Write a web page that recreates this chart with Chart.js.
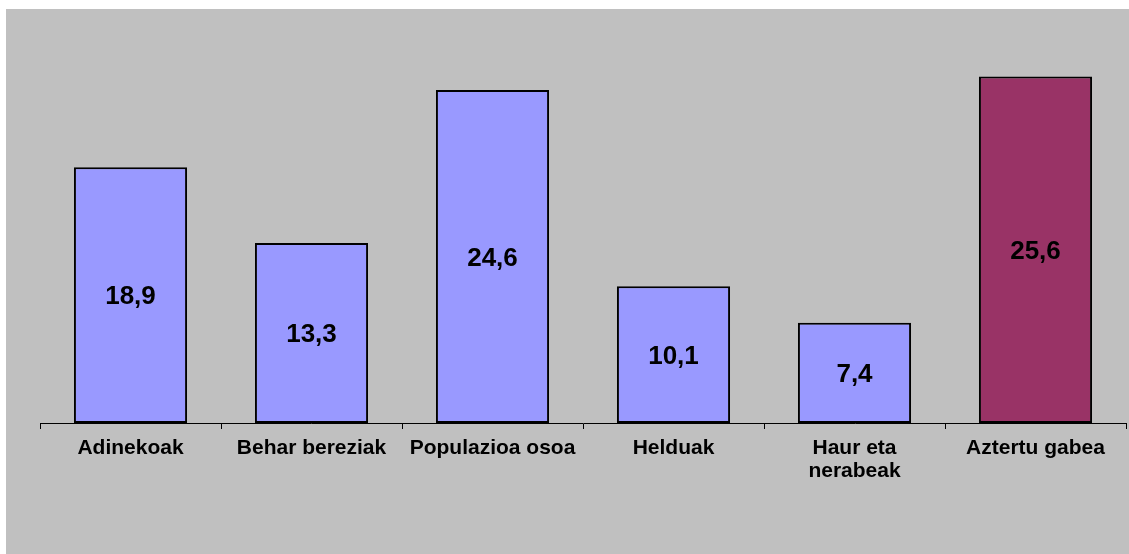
<!DOCTYPE html>
<html>
<head>
<meta charset="utf-8">
<script src="https://cdn.jsdelivr.net/npm/chart.js@4.4.1/dist/chart.umd.min.js"></script>
<style>
html,body{margin:0;padding:0;background:#fff;}
#wrap{position:absolute;left:6px;top:9px;width:1123px;height:545px;background:#C0C0C0;}
canvas{display:block;}
</style>
</head>
<body>
<div id="wrap"><canvas id="c" width="1123" height="545"></canvas></div>
<script>
const categories = ['Adinekoak', 'Behar bereziak', 'Populazioa osoa', 'Helduak', ['Haur eta', 'nerabeak'], 'Aztertu gabea'];
const values = [18.9, 13.3, 24.6, 10.1, 7.4, 25.6];
const barColors = ['#9999FF', '#9999FF', '#9999FF', '#9999FF', '#9999FF', '#993366'];
const yMin = 0;
const yMax = 30;

const FONT = "'Liberation Sans', Arial, sans-serif";

const valueLabels = {
  id: 'valueLabels',
  afterDatasetsDraw(chart) {
    const ctx = chart.ctx;
    const meta = chart.getDatasetMeta(0);
    const size = 26;
    ctx.save();
    ctx.font = "bold " + size + "px " + FONT;
    ctx.fillStyle = '#000';
    ctx.textAlign = 'center';
    ctx.textBaseline = 'alphabetic';
    meta.data.forEach((bar, i) => {
      const p = bar.getProps(['x', 'y', 'base'], true);
      const cy = (p.y + p.base) / 2 + size * 0.716 / 2;
      ctx.fillText(values[i].toFixed(1).replace('.', ','), p.x, cy);
    });
    ctx.restore();
  }
};

new Chart(document.getElementById('c'), {
  type: 'bar',
  data: {
    labels: categories,
    datasets: [{
      data: values,
      backgroundColor: barColors,
      borderColor: '#000',
      borderWidth: 2,
      borderSkipped: false,
      barPercentage: 0.625,
      categoryPercentage: 1.0
    }]
  },
  options: {
    responsive: false,
    animation: false,
    events: [],
    layout: { padding: { left: 34, right: 3, top: 8, bottom: 0 } },
    plugins: { legend: { display: false }, tooltip: { enabled: false } },
    scales: {
      y: {
        display: false,
        min: yMin,
        max: yMax
      },
      x: {
        offset: true,
        border: { display: true, color: '#000', width: 1 },
        grid: { display: true, drawOnChartArea: false, drawTicks: true, tickLength: 6, color: '#000', offset: true },
        ticks: {
          autoSkip: false,
          maxRotation: 0,
          padding: 8,
          color: '#000',
          font: { family: FONT, size: 21, weight: 'bold', lineHeight: 1.1 }
        },
        afterFit(scale) { scale.height = 131; }
      }
    }
  },
  plugins: [valueLabels]
});
</script>
</body>
</html>
